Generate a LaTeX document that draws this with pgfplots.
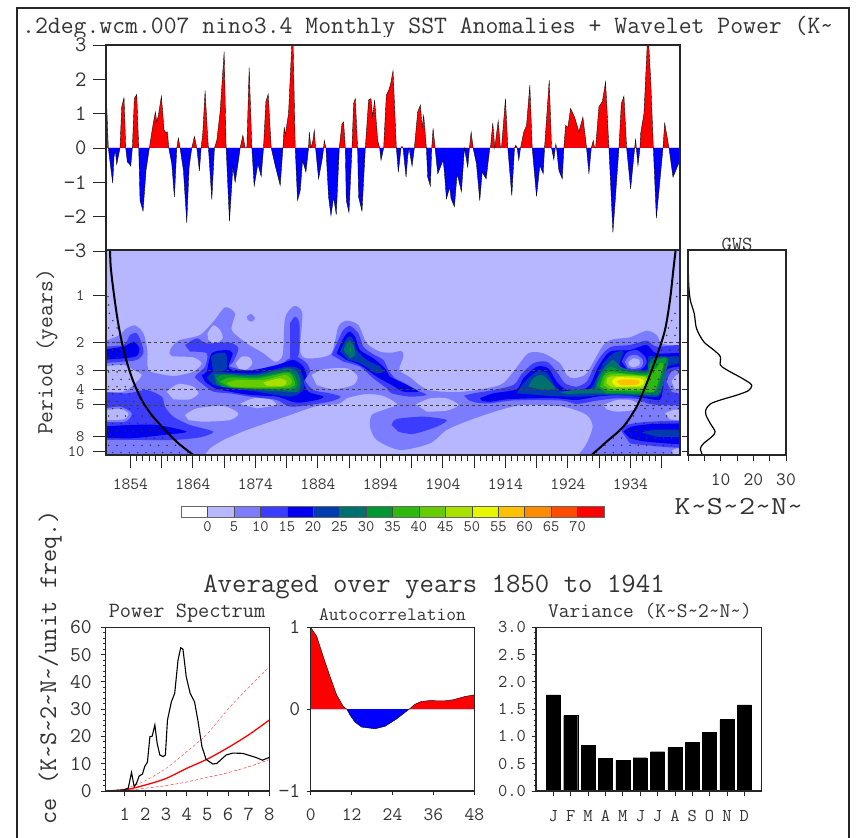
\documentclass[border=0pt]{standalone}
\usepackage{pgfplots}
\usepackage{pgfplotstable}
\pgfplotsset{compat=1.18}
\definecolor{Lz}{HTML}{B7B7FF}
\definecolor{La}{HTML}{7C7CFF}
\definecolor{Lb}{HTML}{3C3CFF}
\definecolor{Lc}{HTML}{0000EE}
\definecolor{Ld}{HTML}{003CB0}
\definecolor{Le}{HTML}{006F6F}
\definecolor{Lf}{HTML}{009830}
\definecolor{Lg}{HTML}{2FB80F}
\definecolor{Lh}{HTML}{66CC00}
\definecolor{Li}{HTML}{A8E000}
\definecolor{Lj}{HTML}{E6F500}
\definecolor{Lk}{HTML}{FFC000}
\definecolor{Ll}{HTML}{FF8C00}
\definecolor{Lm}{HTML}{FF4A00}
\definecolor{Ln}{HTML}{FF0000}
\newcommand\ff[1]{\fontsize{#1}{#1}\selectfont\ttfamily}
\pgfplotstableread{
1850.00 0
1850.00 1.78
1850.37 0
1850.75 -.56
1851.07 -1.02
1851.28 -.26
1851.49 -.07
1851.71 -.48
1852.24 0
1852.51 1.20
1852.88 1.47
1853.15 0
1853.41 -.41
1853.73 -.46
1853.95 -.53
1854.21 0
1854.53 1.44
1854.91 1.56
1855.23 0
1855.44 -1.53
1855.92 -1.84
1856.40 -.65
1856.93 0
1857.47 .63
1857.89 1.05
1858.11 .76
1858.37 .95
1858.85 1.51
1859.28 .52
1859.60 .44
1859.81 .47
1860.03 0
1860.51 -.46
1860.93 -1.43
1861.31 0
1861.57 .29
1861.84 0
1862.37 -.65
1862.91 -2.18
1863.28 -.56
1863.71 0
1864.13 .34
1864.51 0
1864.93 -.67
1865.20 0
1865.47 .44
1865.84 1.67
1866.21 .42
1866.37 0
1866.91 -1.50
1867.33 0
1867.71 .22
1868.24 1.05
1868.88 2.81
1869.20 0
1869.73 -2.14
1870.27 -.56
1870.64 -1.0
1871.17 -.36
1871.44 0
1871.87 .37
1872.24 0
1872.51 0
1872.88 2.34
1873.31 0
1873.68 -1.11
1874.27 -.46
1874.80 -.83
1875.17 0
1875.55 1.35
1875.92 1.57
1876.40 0
1877.04 -.51
1877.84 -1.09
1878.27 0
1878.48 .61
1878.64 .37
1879.17 1.0
1879.70 3.05
1879.90 3.05
1880.24 0
1880.61 -1.53
1881.04 -1.24
1881.41 -.36
1881.95 -.70
1882.37 0
1882.48 .47
1882.75 0
1883.07 .22
1883.28 .52
1883.49 0
1883.97 -.90
1884.61 -.26
1884.77 0
1884.88 .22
1885.15 0
1885.57 -1.43
1885.95 -1.97
1886.37 -1.43
1886.80 -1.94
1887.28 0
1887.71 .71
1887.97 .76
1888.24 0
1888.40 -1.53
1888.83 -1.88
1889.31 0
1889.57 1.30
1889.84 1.44
1890.21 0
1890.37 -1.43
1890.91 -1.84
1891.44 0
1891.97 1.40
1892.35 1.44
1892.61 .91
1892.93 1.40
1893.41 .22
1893.73 0
1893.95 -.36
1894.37 0
1894.80 1.54
1895.17 1.68
1895.44 1.83
1895.87 2.25
1896.40 0
1896.72 -.70
1897.15 0
1897.31 .05
1897.47 0
1897.95 -.85
1898.21 -.26
1898.43 0
1898.91 -.53
1899.28 0
1899.81 1.05
1900.24 1.25
1900.51 .61
1900.77 .95
1901.20 0
1901.41 -.85
1901.84 -1.11
1902.05 0
1902.27 .57
1902.59 0
1903.01 -.75
1903.87 -.36
1904.08 -.70
1904.40 -1.48
1904.93 -1.14
1905.15 -1.48
1905.68 -1.71
1906.11 -.75
1906.80 -1.27
1907.28 0
1907.81 -.56
1908.08 0
1908.35 .47
1908.67 0
1909.20 -.46
1909.73 -1.53
1910.11 -.70
1910.75 -.90
1911.33 0
1911.44 0
1911.81 .73
1912.13 0
1912.67 .79
1913.04 0
1913.20 0
1913.84 1.44
1914.21 0
1914.85 -1.39
1915.28 0
1915.49 .08
1915.71 0
1915.97 -.36
1916.24 0
1916.77 .47
1917.20 .65
1917.73 1.83
1918.11 0
1918.80 -1.41
1919.33 -.51
1919.87 -.75
1920.08 0
1920.83 1.98
1921.20 0
1921.57 -.34
1921.79 0
1921.89 .12
1922.00 0
1922.37 -.65
1922.91 -.90
1923.17 0
1923.44 .66
1923.81 .60
1924.24 1.15
1924.88 .90
1925.57 .47
1926.21 .90
1926.80 0
1927.17 -.75
1927.55 0
1927.87 .22
1928.08 0
1928.24 0
1928.77 1.20
1929.31 1.35
1929.84 1.93
1930.37 0
1931.01 -2.46
1931.97 0
1932.35 1.29
1932.77 1.51
1933.20 0
1933.84 -1.19
1934.48 0
1934.64 .27
1934.75 0
1935.01 -.51
1935.33 0
1935.44 .42
1935.97 1.00
1936.50 3.05
1936.72 3.05
1937.04 2.00
1937.47 0
1937.95 -2.04
1939.01 0
1939.28 .73
1939.97 0
1940.61 -.85
1941.73 -.36
1941.73 0
}\nino
\pgfplotstableread{
0 0
0 1
1.76 .89
3.7 .64
5.67 .40
7.6 .175
9.6 .03
10.6 0
11.5 -.07
13 -.16
15 -.22
18.9 -.24
21.8 -.21
25.2 -.12
28.9 0
30.6 .06
32.5 .095
35 .105
38.9 .10
41.8 .115
45.3 .155
48 .175
48 0
}\acf
\pgfplotstableread{
54 140
56 165
58 190
68 212
56 234
81 234
68 256
56 278
81 278
68 300
93 300
56 322
81 322
68 344
93 344
56 366
81 366
106 366
68 388
93 388
118 388
56 410
81 410
106 410
131 410
68 432
93 432
118 432
143 432
56 454
81 454
106 454
131 454
156 454
68 476
93 476
118 476
143 476
168 476
56 498
81 498
106 498
131 498
156 498
181 498
68 520
93 520
118 520
143 520
168 520
193 520
56 542
81 542
106 542
131 542
156 542
181 542
206 542
68 564
93 564
118 564
143 564
168 564
193 564
218 564
243 564
56 586
81 586
106 586
131 586
156 586
181 586
206 586
231 586
256 586
68 608
93 608
118 608
143 608
168 608
193 608
218 608
243 608
268 608
293 608
1762 100
1760 140
1755 190
1745 212
1735 234
1760 234
1730 256
1755 256
1715 278
1740 278
1765 278
1715 300
1740 300
1765 300
1705 322
1730 322
1755 322
1700 344
1725 344
1750 344
1690 366
1715 366
1740 366
1765 366
1680 388
1705 388
1730 388
1755 388
1670 410
1695 410
1720 410
1745 410
1660 432
1685 432
1710 432
1735 432
1760 432
1655 454
1680 454
1705 454
1730 454
1755 454
1640 476
1665 476
1690 476
1715 476
1740 476
1765 476
1630 498
1655 498
1680 498
1705 498
1730 498
1755 498
1612 520
1637 520
1662 520
1687 520
1712 520
1737 520
1762 520
1590 542
1615 542
1640 542
1665 542
1690 542
1715 542
1740 542
1765 542
1570 564
1595 564
1620 564
1645 564
1670 564
1695 564
1720 564
1745 564
1545 586
1570 586
1595 586
1620 586
1645 586
1670 586
1695 586
1720 586
1745 586
1520 608
1545 608
1570 608
1595 608
1620 608
1645 608
1670 608
1695 608
1720 608
1745 608
}\stip
\newcommand\lev[2]{\addplot[fill=#1,draw=none,forget plot,smooth,tension=.45] table[header=false,row sep=\\,x expr={1854+(\thisrowno{0}-121)/18.75},y expr={pow(2,(\thisrowno{1}-137)/141)}]{#2};}
\pgfplotsset{
 every axis/.append style={scale only axis,axis on top,axis line style={line width=1.1pt,black!85},
  every tick/.style={black!85,line width=.8pt},tick align=outside,
  xtick pos=bottom,ytick pos=left,clip=true},
}
\begin{document}
\begin{tikzpicture}
\path[use as bounding box] (0pt,0pt) rectangle (858pt,837pt);
\clip (0pt,0pt) rectangle (858pt,837pt);
% frame
\draw[line width=1.5pt,black!85] (17pt,-5pt)--(17pt,829pt)--(849pt,829pt)--(849pt,-5pt);
% title
\begin{scope}
\clip (18pt,800pt) rectangle (846pt,829pt);
\node[anchor=base west,inner sep=0,text=black!80] at (22pt,803pt) {\ff{25}.2deg.wcm.007 nino3.4 Monthly SST Anomalies + Wavelet Power (K\char`\~};
\end{scope}
% top panel
\begin{axis}[at={(106pt,586pt)},anchor=south west,width=574pt,height=206pt,
 xmin=1850,xmax=1941.73,ymin=-3,ymax=3,xtick=\empty,
 ytick={-3,-2,-1,0,1,2,3},yticklabels={−3,−2,−1,0,1,2,3},
 major tick length=13pt,
 yticklabel style={font=\ff{22},text=black!80,xshift=-3pt}]
\addplot[fill=red,draw=none] table[x index=0,y expr={max(\thisrowno{1},0)}]{\nino};
\addplot[fill=blue,draw=none] table[x index=0,y expr={min(\thisrowno{1},0)}]{\nino};
\addplot[black,line width=.35pt] table[x index=0,y index=1]{\nino};
\end{axis}
% wavelet panel
\begin{axis}[at={(106pt,382pt)},anchor=south west,width=574pt,height=205pt,
 xmin=1850.1,xmax=1941.95,ymode=log,ymin=.51,ymax=10.48,y dir=reverse,
 axis background/.style={fill=Lz},
 xtick={1854,1859,...,1939},
 xticklabels={1854,,1864,,1874,,1884,,1894,,1904,,1914,,1924,,1934,},
 minor x tick num=4,major tick length=13pt,minor tick length=6pt,
 ytick={1,2,3,4,5,8,10},yticklabels={1,2,3,4,5,8,10},yminorticks=false,
 xticklabel style={font=\ff{17},text=black!80,yshift=-7pt},
 yticklabel style={font=\ff{16},text=black!80,xshift=-5pt}]
\lev{La}{48 272\\90 255\\105 238\\135 226\\160 250\\172 300\\172 345\\182 365\\250 378\\310 365\\335 340\\310 322\\245 318\\240 300\\265 272\\330 255\\370 215\\405 172\\435 190\\425 240\\470 280\\520 310\\555 335\\578 315\\585 205\\612 168\\637 190\\630 300\\650 325\\722 312\\745 230\\770 212\\805 225\\830 280\\870 305\\905 308\\935 303\\940 320\\928 360\\960 382\\1015 420\\1120 425\\1230 405\\1270 365\\1315 310\\1360 310\\1410 340\\1430 375\\1450 385\\1485 375\\1505 345\\1540 285\\1570 268\\1620 262\\1670 242\\1700 255\\1715 280\\1770 290\\1790 290\\1790 640\\1440 640\\1465 615\\1490 580\\1508 530\\1490 495\\1420 470\\1300 465\\1230 480\\1140 510\\1070 540\\1020 580\\930 600\\860 570\\840 530\\845 495\\880 480\\920 465\\905 450\\870 435\\820 433\\770 445\\745 462\\680 468\\600 495\\470 540\\400 570\\360 595\\345 615\\330 640\\30 640\\30 272\\}
\lev{La}{470 200\\483 192\\495 205\\485 215\\473 210\\}
% islands of the lowest band
\lev{Lz}{352 250\\370 226\\390 240\\398 265\\375 280\\355 270\\}
\lev{Lz}{437 340\\455 320\\478 322\\487 340\\470 358\\447 358\\}
\lev{Lz}{665 375\\700 358\\770 355\\802 378\\790 405\\730 418\\680 405\\}
\lev{Lz}{230 425\\265 402\\310 410\\325 430\\300 448\\250 448\\}
\lev{Lz}{285 495\\320 475\\400 468\\445 490\\420 510\\340 515\\295 510\\}
\lev{Lz}{450 462\\490 445\\540 448\\558 465\\500 475\\}
\lev{Lz}{978 463\\1020 445\\1070 445\\1105 465\\1070 482\\1010 485\\}
\lev{Lz}{1540 465\\1580 450\\1620 450\\1645 462\\1630 480\\1580 485\\1550 478\\}
\lev{Lz}{30 350\\100 345\\130 360\\155 375\\135 400\\100 425\\30 425\\}
\lev{Lz}{1725 490\\1750 480\\1790 480\\1790 510\\1740 508\\}
\lev{Lz}{1745 603\\1760 595\\1790 600\\1790 612\\1750 612\\}
% second band
\lev{Lb}{30 290\\100 285\\120 255\\140 250\\155 280\\160 310\\140 330\\100 335\\30 340\\}
\lev{Lb}{30 425\\110 430\\170 420\\215 440\\225 470\\250 500\\300 525\\370 545\\330 562\\250 570\\150 570\\30 570\\}
\lev{La}{30 478\\90 470\\125 490\\105 515\\30 516\\}
\lev{Lz}{30 482\\90 477\\115 490\\100 508\\30 510\\}
\lev{Lb}{285 285\\320 265\\350 280\\420 278\\445 295\\430 335\\420 350\\500 365\\575 345\\590 330\\620 320\\650 340\\660 365\\645 390\\670 420\\720 430\\752 440\\730 452\\680 462\\600 470\\560 450\\480 440\\420 430\\370 425\\335 400\\315 380\\345 350\\350 310\\300 305\\}
\lev{Lb}{600 220\\615 200\\628 220\\628 300\\620 325\\600 325\\}
\lev{Lb}{725 315\\745 270\\760 240\\780 228\\805 250\\820 290\\845 310\\880 330\\895 360\\915 385\\935 395\\980 420\\1010 435\\960 440\\905 430\\890 415\\850 385\\810 350\\760 335\\}
\lev{Lb}{1122 437\\1150 430\\1200 422\\1270 405\\1295 372\\1330 340\\1370 335\\1400 365\\1425 400\\1460 410\\1490 395\\1510 355\\1535 315\\1565 290\\1620 285\\1670 272\\1700 290\\1790 295\\1790 450\\1720 465\\1670 460\\1645 447\\1580 445\\1520 452\\1460 462\\1420 452\\1340 450\\1260 452\\1200 460\\1160 458\\1135 450\\}
\lev{Lb}{905 525\\920 507\\1000 500\\1070 510\\1040 530\\970 552\\925 545\\}
\lev{Lb}{1595 545\\1610 525\\1680 515\\1790 518\\1790 590\\1660 585\\1620 580\\}
% third band
\lev{Lc}{30 300\\100 290\\130 275\\148 295\\140 318\\100 325\\30 330\\}
\lev{Lc}{30 530\\120 525\\200 525\\290 545\\220 555\\120 565\\30 562\\}
\lev{Lc}{335 375\\350 365\\365 310\\410 300\\428 310\\415 350\\430 360\\490 360\\560 345\\610 330\\640 350\\650 380\\640 395\\655 425\\700 440\\680 450\\620 458\\560 440\\480 435\\420 425\\375 415\\345 395\\}
\lev{Lc}{740 310\\760 265\\778 245\\795 260\\810 300\\850 325\\885 355\\900 380\\930 395\\960 410\\985 425\\940 425\\905 405\\860 380\\810 345\\770 330\\}
\lev{Lc}{1170 445\\1210 430\\1280 418\\1300 385\\1340 350\\1375 355\\1400 395\\1430 420\\1475 420\\1500 405\\1525 350\\1560 305\\1620 300\\1670 285\\1700 310\\1790 310\\1790 345\\1730 360\\1715 440\\1700 450\\1640 440\\1580 435\\1520 440\\1460 450\\1400 445\\1330 445\\1250 448\\1200 455\\1175 452\\}
\lev{Lc}{1600 545\\1625 530\\1690 522\\1790 525\\1790 580\\1670 575\\1620 565\\}
% fourth band
\lev{Ld}{362 320\\380 310\\408 312\\408 360\\370 365\\}
\lev{Ld}{350 385\\370 365\\420 368\\500 370\\590 350\\625 355\\640 385\\640 420\\600 440\\500 425\\420 415\\370 405\\}
\lev{Ld}{750 305\\770 265\\785 262\\800 300\\830 330\\870 350\\880 365\\860 370\\810 340\\775 330\\}
\lev{Ld}{1280 430\\1300 400\\1340 365\\1372 370\\1392 405\\1420 428\\1490 428\\1520 385\\1540 340\\1570 310\\1600 305\\1590 350\\1670 360\\1675 320\\1700 320\\1730 320\\1765 320\\1765 340\\1725 355\\1710 435\\1670 440\\1560 435\\1460 440\\1380 438\\}
\lev{Ld}{1655 548\\1690 540\\1790 540\\1790 560\\1700 560\\}
% fifth band
\lev{Le}{372 372\\420 372\\500 375\\590 355\\620 365\\632 395\\625 425\\590 425\\500 420\\420 410\\380 405\\}
\lev{Le}{760 300\\775 272\\790 285\\795 315\\780 325\\}
\lev{Le}{1315 410\\1330 385\\1355 375\\1380 395\\1395 418\\1355 420\\}
\lev{Le}{1515 415\\1525 380\\1550 345\\1570 330\\1600 355\\1670 365\\1675 340\\1690 325\\1720 320\\1735 330\\1710 430\\1670 435\\1560 432\\1500 430\\1430 432\\1410 425\\}
% green bands
\lev{Lf}{378 385\\400 375\\500 380\\590 365\\612 375\\622 400\\610 420\\550 418\\450 415\\395 410\\}
\lev{Lf}{779 293\\783 293\\783 306\\779 306\\}
\lev{Lf}{1520 410\\1535 375\\1560 350\\1595 362\\1670 370\\1680 345\\1700 330\\1730 325\\1720 355\\1700 420\\1670 430\\1550 430\\}
\lev{Lg}{390 395\\420 382\\500 385\\590 368\\608 380\\615 405\\590 415\\500 415\\420 412\\}
\lev{Lg}{1530 410\\1540 378\\1560 365\\1600 370\\1670 375\\1685 360\\1700 355\\1710 340\\1720 345\\1695 420\\1670 425\\1550 422\\}
\lev{Lh}{410 400\\440 390\\520 390\\585 375\\605 390\\600 405\\560 412\\470 412\\425 410\\}
\lev{Lh}{1540 405\\1550 378\\1580 372\\1660 378\\1675 385\\1665 415\\1620 420\\1560 418\\}
\lev{Li}{520 397\\570 385\\590 395\\580 408\\530 408\\}
\lev{Li}{1550 400\\1560 380\\1660 380\\1672 395\\1660 412\\1565 412\\}
\lev{Lj}{1565 397\\1580 382\\1650 385\\1662 395\\1650 408\\1580 410\\}
\lev{Lk}{1580 395\\1595 388\\1645 390\\1648 400\\1635 405\\1590 405\\}
% ring and right-edge holes
\lev{Lb}{1595 335\\1610 308\\1640 300\\1665 320\\1670 340\\1650 360\\1615 362\\}
\lev{La}{1605 335\\1618 318\\1640 315\\1658 330\\1655 350\\1630 357\\1612 352\\}
\lev{Lz}{1615 338\\1630 325\\1648 330\\1648 345\\1630 352\\1618 347\\}
\lev{La}{1730 395\\1745 365\\1790 358\\1790 430\\1745 425\\}
\lev{Lz}{1745 395\\1760 375\\1790 372\\1790 418\\1755 418\\}
% stippling outside the cone of influence
\addplot[only marks,mark=*,mark size=.5pt,black!80,forget plot] table[x expr={1854+(\thisrowno{0}-121)/18.75},y expr={pow(2,(\thisrowno{1}-137)/141)}]{\stip};
% reference periods
\addplot[black!75,dashed,line width=.5pt] coordinates {(1850.1,2)(1941.95,2)};
\addplot[black!75,dashed,line width=.5pt] coordinates {(1850.1,3)(1941.95,3)};
\addplot[black!75,dashed,line width=.5pt] coordinates {(1850.1,4)(1941.95,4)};
\addplot[black!75,dashed,line width=.5pt] coordinates {(1850.1,5)(1941.95,5)};
% cone of influence
\addplot[black,line width=2pt,smooth] table[header=false,row sep=\\,x expr={1854+(\thisrowno{0}-121)/18.75},y expr={pow(2,(\thisrowno{1}-137)/141)}]{60 0\\62 50\\70 120\\82 205\\95 275\\110 335\\130 395\\155 450\\185 495\\225 540\\265 580\\310 615\\};
\addplot[black,line width=2pt,smooth] table[header=false,row sep=\\,x expr={1854+(\thisrowno{0}-121)/18.75},y expr={pow(2,(\thisrowno{1}-137)/141)}]{1505 615\\1550 575\\1600 530\\1640 470\\1670 400\\1700 320\\1725 240\\1740 150\\1750 60\\1757 0\\};
\end{axis}
% global wavelet spectrum
\begin{axis}[at={(688pt,382pt)},anchor=south west,width=98pt,height=205pt,
 xmin=0,xmax=30,ymode=log,ymin=.51,ymax=10.48,y dir=reverse,
 xtick={0,5,...,30},xticklabels={,,10,,20,,30},
 ytick={1,2,3,4,5,8,10},yticklabels={},yminorticks=false,
 major tick length=6pt,
 xticklabel style={font=\ff{19},text=black!80,yshift=-9pt}]
\addplot[black,line width=1.2pt,smooth] coordinates {(0,.51)(.2,.834)(.7,1.066)(1.9,1.30)(2.6,1.62)(4.8,1.97)(7.9,2.23)(9.9,2.46)(9.9,2.78)(11.9,2.99)(16,3.33)(19,3.64)(19.5,3.79)(18.5,4.06)(15,4.33)(9.9,4.66)(6.8,4.94)(5.5,5.35)(5.5,5.81)(6.8,6.57)(8.3,7.43)(7.3,8)(4.8,8.83)(3.8,9.5)(4.3,10.33)};
\end{axis}
% colour bar
\begin{axis}[at={(181pt,320pt)},anchor=south west,width=423pt,height=11pt,
 xmin=-5,xmax=75,ymin=0,ymax=1,ytick=\empty,
 xtick={0,5,...,70},xticklabels={0,5,10,15,20,25,30,35,40,45,50,55,60,65,70},
 major tick length=0pt,
 axis line style={line width=.7pt,black!60},
 xticklabel style={font=\ff{16},text=black!80,yshift=-1pt}]
\addplot[fill=white,draw=black!70] coordinates {(-5,0)(0,0)(0,1)(-5,1)} --cycle;
\addplot[fill=Lz,draw=black!70] coordinates {(0,0)(5,0)(5,1)(0,1)} --cycle;
\addplot[fill=La,draw=black!70] coordinates {(5,0)(10,0)(10,1)(5,1)} --cycle;
\addplot[fill=Lb,draw=black!70] coordinates {(10,0)(15,0)(15,1)(10,1)} --cycle;
\addplot[fill=Lc,draw=black!70] coordinates {(15,0)(20,0)(20,1)(15,1)} --cycle;
\addplot[fill=Ld,draw=black!70] coordinates {(20,0)(25,0)(25,1)(20,1)} --cycle;
\addplot[fill=Le,draw=black!70] coordinates {(25,0)(30,0)(30,1)(25,1)} --cycle;
\addplot[fill=Lf,draw=black!70] coordinates {(30,0)(35,0)(35,1)(30,1)} --cycle;
\addplot[fill=Lg,draw=black!70] coordinates {(35,0)(40,0)(40,1)(35,1)} --cycle;
\addplot[fill=Lh,draw=black!70] coordinates {(40,0)(45,0)(45,1)(40,1)} --cycle;
\addplot[fill=Li,draw=black!70] coordinates {(45,0)(50,0)(50,1)(45,1)} --cycle;
\addplot[fill=Lj,draw=black!70] coordinates {(50,0)(55,0)(55,1)(50,1)} --cycle;
\addplot[fill=Lk,draw=black!70] coordinates {(55,0)(60,0)(60,1)(55,1)} --cycle;
\addplot[fill=Ll,draw=black!70] coordinates {(60,0)(65,0)(65,1)(60,1)} --cycle;
\addplot[fill=Lm,draw=black!70] coordinates {(65,0)(70,0)(70,1)(65,1)} --cycle;
\addplot[fill=Ln,draw=black!70] coordinates {(70,0)(75,0)(75,1)(70,1)} --cycle;
\end{axis}
% power spectrum
\begin{axis}[at={(105.7pt,46pt)},anchor=south west,width=163.6pt,height=163.7pt,
 xmin=.08,xmax=8,ymin=0,ymax=60,
 xtick={1,...,8},ytick={0,10,...,60},minor y tick num=4,
 major tick length=4.5pt,minor tick length=2.5pt,
 xticklabels={1,2,3,4,5,6,7,8},yticklabels={0,10,20,30,40,50,60},
 xticklabel style={font=\ff{20},text=black!80,yshift=-9pt},
 yticklabel style={font=\ff{21},text=black!80,xshift=-6pt}]
\addplot[red!65,densely dashed,line width=.5pt,smooth] coordinates {(.08,0)(1,.8)(2,3.8)(3,8.3)(4,14.4)(5,21)(6,30)(7,38)(8,45.5)};
\addplot[red!80,densely dashed,line width=.5pt,smooth] coordinates {(.08,0)(1,.2)(2,1)(3,2)(4,3.3)(5,5)(6,6.7)(7,8.9)(8,11.5)};
\addplot[red,line width=1.3pt,smooth] coordinates {(.08,0)(1,.4)(2,2.2)(3,4.6)(4,8.3)(5,11.7)(6,15.9)(7,20.6)(8,26)};
\addplot[black,line width=1.1pt] coordinates {(.08,0)(.93,.4)(1.17,1)(1.33,6.8)(1.46,1.6)(1.57,2.8)(1.70,5.5)(1.86,6.2)(1.97,9)(2.10,10.6)(2.22,19.9)(2.33,20.1)(2.46,24.2)(2.57,17.5)(2.70,13.2)(2.86,12.6)(2.97,13.2)(3.07,26)(3.26,32.7)(3.42,35.8)(3.58,47.9)(3.71,52.5)(3.82,52)(3.98,41.8)(4.17,35.8)(4.38,32.7)(4.54,26)(4.74,16.2)(4.94,11.6)(5.26,9.9)(5.46,10.1)(5.91,13.2)(6.23,13.9)(6.71,13.8)(7.35,12.3)(7.67,11.3)(7.96,12.2)(8,12.2)};
\end{axis}
% autocorrelation
\begin{axis}[at={(310.7pt,46pt)},anchor=south west,width=163.6pt,height=163.7pt,
 xmin=0,xmax=48,ymin=-1,ymax=1,
 xtick={0,12,...,48},ytick={-1,0,1},
 xticklabels={0,12,24,36,48},yticklabels={−1,0,1},
 major tick length=4pt,
 xticklabel style={font=\ff{19},text=black!80,yshift=-10pt},
 yticklabel style={font=\ff{21},text=black!80,xshift=-3pt}]
\addplot[fill=red,draw=none] table[x index=0,y expr={max(\thisrowno{1},0)}]{\acf};
\addplot[fill=blue,draw=none] table[x index=0,y expr={min(\thisrowno{1},0)}]{\acf};
\addplot[black,line width=.4pt] table[x index=0,y index=1]{\acf};
\end{axis}
% variance
\begin{axis}[at={(536pt,46pt)},anchor=south west,width=225.7pt,height=163.7pt,
 xmin=0,xmax=13,ymin=0,ymax=3,
 xtick={1,...,12},xticklabels={J,F,M,A,M,J,J,A,S,O,N,D},
 ytick={0,.5,...,3},yticklabels={0.0,0.5,1.0,1.5,2.0,2.5,3.0},minor y tick num=4,
 major tick length=4.5pt,minor tick length=2.5pt,
 xticklabel style={font=\ff{18},text=black!80,yshift=-11pt},
 yticklabel style={font=\ff{18},text=black!80,xshift=-2pt},
 ybar,bar width=14pt]
\addplot[fill=black,draw=black] coordinates {(1,1.76)(2,1.38)(3,.84)(4,.60)(5,.556)(6,.61)(7,.72)(8,.80)(9,.89)(10,1.075)(11,1.31)(12,1.58)};
\end{axis}
% texts
\tikzset{lab/.style={inner sep=0,text=black!80}}
\node[lab,anchor=base] at (737pt,586.5pt) {\ff{20}GWS};
\node[lab,rotate=90] at (47pt,485pt) {\ff{23}Period (years)};
\node[lab,anchor=base,xscale=1.2] at (739pt,322pt) {\ff{26}K\char`\~S\char`\~2\char`\~N\char`\~};
\node[lab,anchor=base] at (434pt,244.5pt) {\ff{28}Averaged over years 1850 to 1941};
\node[lab,anchor=base] at (187pt,219pt) {\ff{21.7}Power Spectrum};
\node[lab,anchor=base] at (392.5pt,216pt) {\ff{19}Autocorrelation};
\node[lab,anchor=base] at (650pt,219pt) {\ff{20.8}Variance (K\char`\~S\char`\~2\char`\~N\char`\~)};
\node[lab,rotate=90,anchor=base east] at (56pt,327pt) {\ff{25.4}ce (K\char`\~S\char`\~2\char`\~N\char`\~/unit freq.)};
\end{tikzpicture}
\end{document}
